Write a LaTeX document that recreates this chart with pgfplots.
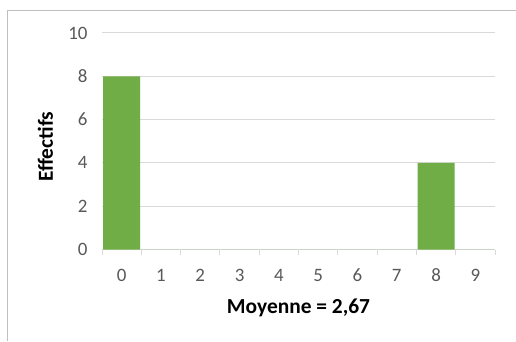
\documentclass[border=0pt]{standalone}
\usepackage{fontspec}
\setmainfont{Carlito}
\usepackage{pgfplots}
\pgfplotsset{compat=1.18}
\definecolor{barg}{HTML}{70AD47}
\definecolor{gridc}{HTML}{D9D9D9}
\definecolor{tickc}{HTML}{595959}
\definecolor{framec}{HTML}{BFBFBF}
\begin{document}
\begin{tikzpicture}[x=1bp,y=1bp]
  \useasboundingbox[fill=white] (0,0) rectangle (516,341);
  % chart frame (left and top edges visible)
  \draw[framec, line width=1bp] (7,0) -- (7,330) -- (516,330);
  \begin{axis}[
    at={(102bp,91.5bp)}, anchor=south west,
    scale only axis,
    width=393bp, height=216.5bp,
    xmin=-0.5, xmax=9.5,
    ymin=0, ymax=10,
    ytick={0,2,...,10},
    xtick={0,...,9},
    minor xtick={-0.5,0.5,...,9.5},
    major tick length=0pt,
    minor tick length=5bp,
    tick align=outside,
    axis x line*=bottom,
    axis y line*=left,
    y axis line style={draw=none},
    x axis line style={gridc, line width=1bp},
    minor x tick style={gridc, line width=1bp},
    ymajorgrids=true,
    grid style={gridc, line width=1bp},
    /pgf/number format/assume math mode=true,
    tick label style={font=\fontsize{19}{22}\selectfont, text=tickc},
    xticklabel style={yshift=-16bp},
    yticklabel style={xshift=-11bp},
    xlabel={Moyenne = 2,67},
    ylabel={Effectifs},
    label style={font=\fontsize{21.5}{25}\bfseries\selectfont, text=black},
    xlabel style={at={(rel axis cs:0.5,-0.268)}, anchor=center},
    ylabel style={at={(rel axis cs:-0.144,0.475)}, anchor=center, rotate=0},
    ybar, bar width=37bp, bar shift=0pt,
  ]
  \addplot[fill=barg, draw=none] coordinates {
    (0,8) (1,0) (2,0) (3,0) (4,0) (5,0) (6,0) (7,0) (8,4) (9,0)
  };
  \end{axis}
\end{tikzpicture}
\end{document}
